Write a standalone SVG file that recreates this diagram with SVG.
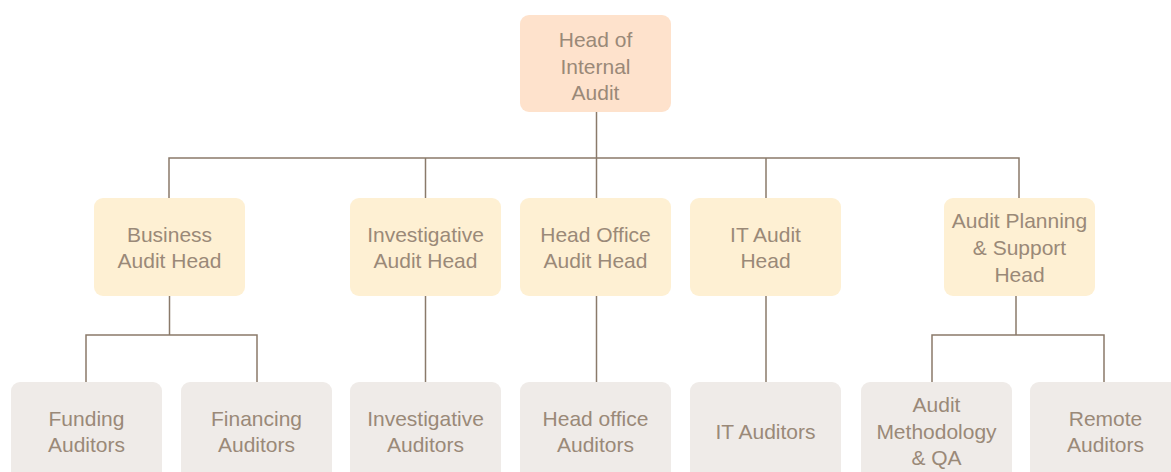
<svg xmlns="http://www.w3.org/2000/svg" width="1171" height="472" viewBox="0 0 1171 472">
  <style>
    .box-top { fill: #fee2cc; }
    .box-mid { fill: #fef0d3; }
    .box-low { fill: #efebe8; }
    .lbl { font-family: "Liberation Sans", Arial, sans-serif; font-size: 21px; fill: #9a8978; text-anchor: middle; }
    .wire { fill: none; stroke: #8a7a6a; stroke-width: 1.5; }
  </style>
  <rect width="1171" height="472" fill="#ffffff"/>

  <!-- reporting lines -->
  <g id="connectors">
    <path class="wire" d="M596.5 112 V158"/>
    <path class="wire" d="M169 198 V158 H1019 V198"/>
    <path class="wire" d="M425.5 158 V198"/>
    <path class="wire" d="M596.5 158 V198"/>
    <path class="wire" d="M766 158 V198"/>
    <path class="wire" d="M169.5 296 V335"/>
    <path class="wire" d="M86 382 V335 H257 V382"/>
    <path class="wire" d="M425.5 296 V382"/>
    <path class="wire" d="M596.5 296 V382"/>
    <path class="wire" d="M766 296 V382"/>
    <path class="wire" d="M1016 296 V335"/>
    <path class="wire" d="M932 382 V335 H1104 V382"/>
  </g>

  <!-- top -->
  <g id="head-internal-audit">
    <rect class="box-top" x="520" y="15" width="151" height="97" rx="9"/>
    <text class="lbl" x="595.5" y="47">Head of</text>
    <text class="lbl" x="595.5" y="74">Internal</text>
    <text class="lbl" x="595.5" y="100">Audit</text>
  </g>

  <!-- second tier -->
  <g id="business-audit-head">
    <rect class="box-mid" x="94" y="198" width="151" height="98" rx="9"/>
    <text class="lbl" x="169.5" y="242">Business</text>
    <text class="lbl" x="169.5" y="268">Audit Head</text>
  </g>
  <g id="investigative-audit-head">
    <rect class="box-mid" x="350" y="198" width="151" height="98" rx="9"/>
    <text class="lbl" x="425.5" y="242">Investigative</text>
    <text class="lbl" x="425.5" y="268">Audit Head</text>
  </g>
  <g id="head-office-audit-head">
    <rect class="box-mid" x="520" y="198" width="151" height="98" rx="9"/>
    <text class="lbl" x="595.5" y="242">Head Office</text>
    <text class="lbl" x="595.5" y="268">Audit Head</text>
  </g>
  <g id="it-audit-head">
    <rect class="box-mid" x="690" y="198" width="151" height="98" rx="9"/>
    <text class="lbl" x="765.5" y="242">IT Audit</text>
    <text class="lbl" x="765.5" y="268">Head</text>
  </g>
  <g id="audit-planning-support-head">
    <rect class="box-mid" x="944" y="198" width="151" height="98" rx="9"/>
    <text class="lbl" x="1019.5" y="228">Audit Planning</text>
    <text class="lbl" x="1019.5" y="255">&amp; Support</text>
    <text class="lbl" x="1019.5" y="281.5">Head</text>
  </g>

  <!-- third tier -->
  <g id="funding-auditors">
    <rect class="box-low" x="11" y="382" width="151" height="110" rx="9"/>
    <text class="lbl" x="86.5" y="426">Funding</text>
    <text class="lbl" x="86.5" y="452">Auditors</text>
  </g>
  <g id="financing-auditors">
    <rect class="box-low" x="181" y="382" width="151" height="110" rx="9"/>
    <text class="lbl" x="256.5" y="426">Financing</text>
    <text class="lbl" x="256.5" y="452">Auditors</text>
  </g>
  <g id="investigative-auditors">
    <rect class="box-low" x="350" y="382" width="151" height="110" rx="9"/>
    <text class="lbl" x="425.5" y="426">Investigative</text>
    <text class="lbl" x="425.5" y="452">Auditors</text>
  </g>
  <g id="head-office-auditors">
    <rect class="box-low" x="520" y="382" width="151" height="110" rx="9"/>
    <text class="lbl" x="595.5" y="426">Head office</text>
    <text class="lbl" x="595.5" y="452">Auditors</text>
  </g>
  <g id="it-auditors">
    <rect class="box-low" x="690" y="382" width="151" height="110" rx="9"/>
    <text class="lbl" x="765.5" y="438.5">IT Auditors</text>
  </g>
  <g id="audit-methodology-qa">
    <rect class="box-low" x="861" y="382" width="151" height="110" rx="9"/>
    <text class="lbl" x="936.5" y="412">Audit</text>
    <text class="lbl" x="936.5" y="438.5">Methodology</text>
    <text class="lbl" x="936.5" y="464.5">&amp; QA</text>
  </g>
  <g id="remote-auditors">
    <rect class="box-low" x="1030" y="382" width="151" height="110" rx="9"/>
    <text class="lbl" x="1105.5" y="426">Remote</text>
    <text class="lbl" x="1105.5" y="452">Auditors</text>
  </g>
</svg>
